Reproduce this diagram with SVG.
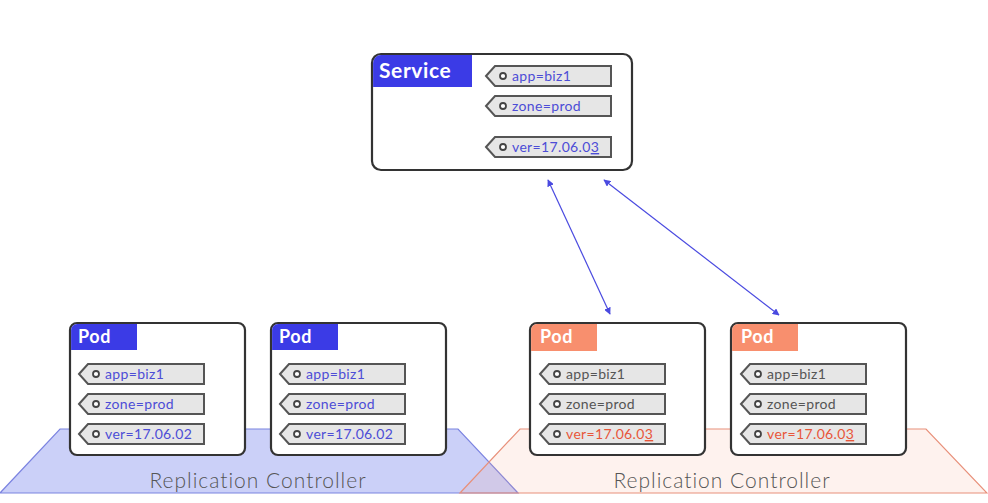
<svg xmlns="http://www.w3.org/2000/svg" width="988" height="503" viewBox="0 0 988 503">
<style>
.box{fill:#fff;stroke:#333;stroke-width:2.2}
.hb{fill:#3b3be6}
.hr{fill:#f88f6e}
.ht{font-family:"Lato","Open Sans",sans-serif;font-weight:700;fill:#fff;letter-spacing:0.6px}
.tag{fill:#e6e6e6;stroke:#555;stroke-width:2}
.dot{fill:#fff;stroke:#444;stroke-width:1.8}
.tt{font-family:"Lato","Open Sans",sans-serif;font-size:14px;letter-spacing:0.35px}
.blue{fill:#4d4dd6}
.gray{fill:#555}
.red{fill:#e8563a}
.rc{font-family:"Lato","Open Sans",sans-serif;font-weight:300;font-size:21px;letter-spacing:1px;fill:#555;text-anchor:middle}
.conn{stroke:#4a4ae0;stroke-width:1.2;fill:none;marker-start:url(#ah);marker-end:url(#ah)}
</style>
<defs>
<path id="tagshape" d="M0,10 L9,0 H125 V20 H9 Z"/>
<marker id="ah" viewBox="0 0 10 10" refX="9" refY="5" markerWidth="7" markerHeight="7" orient="auto-start-reverse" markerUnits="userSpaceOnUse">
<path d="M0,0 L10,5 L0,10 Z" fill="#4a4ae0"/>
</marker>
</defs>
<rect width="988" height="503" fill="#fff"/>
<g id="rc-blue">
<polygon points="60,429 458,429 518,493 0,493" fill="#cbd0f8" stroke="#7b83e0" stroke-width="1.2"/>
<text class="rc" x="258" y="488">Replication Controller</text>
</g>
<g id="rc-red">
<polygon points="520,429 926,429 987,493 460,493" fill="#f9a08a" fill-opacity="0.14" stroke="#e8907a" stroke-width="1.2"/>
<text class="rc" x="722" y="488">Replication Controller</text>
</g>
<g id="connectors">
<line class="conn" x1="548" y1="180" x2="610" y2="314"/>
<line class="conn" x1="604" y1="180" x2="779" y2="315"/>
</g>
<g id="service">
<rect class="box" x="372" y="54" width="260" height="116" rx="9"/>
<path class="hb" d="M373.1,63 a7.9,7.9 0 0 1 7.9,-7.9 H472 V87 H373.1 Z"/>
<text class="ht" x="379" y="78" font-size="21">Service</text>
<use href="#tagshape" class="tag" x="486" y="66"/>
<circle class="dot" cx="503" cy="76" r="3"/>
<text class="tt blue" x="512" y="81">app=biz1</text>
<use href="#tagshape" class="tag" x="486" y="96"/>
<circle class="dot" cx="503" cy="106" r="3"/>
<text class="tt blue" x="512" y="111">zone=prod</text>
<use href="#tagshape" class="tag" x="486" y="137"/>
<circle class="dot" cx="503" cy="147" r="3"/>
<text class="tt blue" x="512" y="152">ver=17.06.0<tspan text-decoration="underline">3</tspan></text>
</g>
<g id="pod1">
<rect class="box" x="70" y="323" width="175" height="132" rx="7"/>
<path class="hb" d="M71.1,330 a6,6 0 0 1 6,-6 H137 V350 H71.1 Z"/>
<text class="ht" x="78" y="343" font-size="18">Pod</text>
<use href="#tagshape" class="tag" x="79" y="364"/>
<circle class="dot" cx="96" cy="374" r="3"/>
<text class="tt blue" x="105" y="379">app=biz1</text>
<use href="#tagshape" class="tag" x="79" y="394"/>
<circle class="dot" cx="96" cy="404" r="3"/>
<text class="tt blue" x="105" y="409">zone=prod</text>
<use href="#tagshape" class="tag" x="79" y="424"/>
<circle class="dot" cx="96" cy="434" r="3"/>
<text class="tt blue" x="105" y="439">ver=17.06.02</text>
</g>
<g id="pod2">
<rect class="box" x="271" y="323" width="175" height="132" rx="7"/>
<path class="hb" d="M272.1,330 a6,6 0 0 1 6,-6 H338 V350 H272.1 Z"/>
<text class="ht" x="279" y="343" font-size="18">Pod</text>
<use href="#tagshape" class="tag" x="280" y="364"/>
<circle class="dot" cx="297" cy="374" r="3"/>
<text class="tt blue" x="306" y="379">app=biz1</text>
<use href="#tagshape" class="tag" x="280" y="394"/>
<circle class="dot" cx="297" cy="404" r="3"/>
<text class="tt blue" x="306" y="409">zone=prod</text>
<use href="#tagshape" class="tag" x="280" y="424"/>
<circle class="dot" cx="297" cy="434" r="3"/>
<text class="tt blue" x="306" y="439">ver=17.06.02</text>
</g>
<g id="pod3">
<rect class="box" x="530" y="323" width="175" height="132" rx="7"/>
<path class="hr" d="M531.1,330 a6,6 0 0 1 6,-6 H597 V351 H531.1 Z"/>
<text class="ht" x="540" y="343" font-size="18">Pod</text>
<use href="#tagshape" class="tag" x="540" y="364"/>
<circle class="dot" cx="557" cy="374" r="3"/>
<text class="tt gray" x="566" y="379">app=biz1</text>
<use href="#tagshape" class="tag" x="540" y="394"/>
<circle class="dot" cx="557" cy="404" r="3"/>
<text class="tt gray" x="566" y="409">zone=prod</text>
<use href="#tagshape" class="tag" x="540" y="424"/>
<circle class="dot" cx="557" cy="434" r="3"/>
<text class="tt red" x="566" y="439">ver=17.06.0<tspan text-decoration="underline">3</tspan></text>
</g>
<g id="pod4">
<rect class="box" x="731" y="323" width="175" height="132" rx="7"/>
<path class="hr" d="M732.1,330 a6,6 0 0 1 6,-6 H798 V351 H732.1 Z"/>
<text class="ht" x="741" y="343" font-size="18">Pod</text>
<use href="#tagshape" class="tag" x="741" y="364"/>
<circle class="dot" cx="758" cy="374" r="3"/>
<text class="tt gray" x="767" y="379">app=biz1</text>
<use href="#tagshape" class="tag" x="741" y="394"/>
<circle class="dot" cx="758" cy="404" r="3"/>
<text class="tt gray" x="767" y="409">zone=prod</text>
<use href="#tagshape" class="tag" x="741" y="424"/>
<circle class="dot" cx="758" cy="434" r="3"/>
<text class="tt red" x="767" y="439">ver=17.06.0<tspan text-decoration="underline">3</tspan></text>
</g>
</svg>
